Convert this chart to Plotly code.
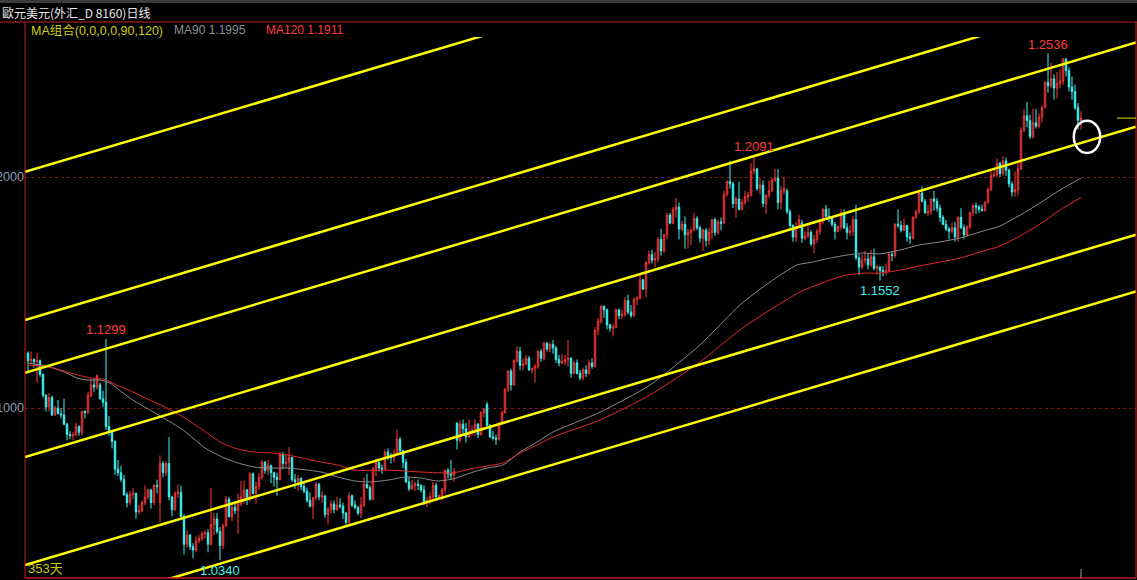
import plotly.graph_objects as go

# ---------------- data (EUR/USD daily) ----------------
opens = [
    # Oct 2016
    1.1238,1.1205,1.1210,1.1200,1.1205,1.1145,1.1055,1.1005,1.1045,1.0970,1.1000,1.0975,1.0970,1.0930,1.0885,1.0880,1.0885,1.0920,1.0895,1.0985,
    # Nov 2016
    1.0980,1.1055,1.1100,1.1090,1.1100,1.1040,1.1025,1.0920,1.0895,1.0855,1.0735,1.0720,1.0690,1.0625,1.0590,1.0625,1.0630,1.0550,1.0555,1.0590,1.0615,1.0645,
    # Dec 2016
    1.0590,1.0665,1.0590,1.0760,1.0720,1.0760,1.0615,1.0560,1.0630,1.0635,1.0530,1.0410,1.0450,1.0400,1.0385,1.0425,1.0435,1.0455,1.0460,1.0410,1.0495,
    # Jan 2017
    1.0520,1.0465,1.0405,1.0490,1.0605,1.0530,1.0570,1.0555,1.0585,1.0615,1.0645,1.0605,1.0715,1.0630,1.0660,1.0700,1.0765,1.0730,1.0750,1.0720,1.0700,1.0690,
    # Feb 2017
    1.0800,1.0760,1.0765,1.0785,1.0690,1.0680,1.0695,1.0660,1.0640,1.0600,1.0575,1.0610,1.0670,1.0615,1.0620,1.0540,1.0560,1.0585,1.0560,1.0580,
    # Mar 2017
    1.0575,1.0545,1.0505,1.0620,1.0580,1.0570,1.0545,1.0580,1.0670,1.0655,1.0605,1.0735,1.0765,1.0740,1.0735,1.0810,1.0795,1.0785,1.0800,1.0865,1.0815,1.0765,1.0680,
    # Apr 2017
    1.0650,1.0665,1.0670,1.0665,1.0645,1.0590,1.0600,1.0615,1.0665,1.0615,1.0620,1.0645,1.0730,1.0715,1.0710,1.0935,1.0860,1.0930,1.0910,1.0875,
    # May 2017
    1.0895,1.0905,1.0930,1.0885,1.0980,1.1015,1.0925,1.0875,1.0870,1.0865,1.0935,1.0980,1.1080,1.1160,1.1100,1.1205,1.1245,1.1185,1.1190,1.1215,1.1165,1.1170,1.1180,
    # Jun 2017
    1.1245,1.1215,1.1280,1.1255,1.1275,1.1260,1.1210,1.1195,1.1200,1.1210,1.1215,1.1150,1.1195,1.1150,1.1130,1.1165,1.1150,1.1195,1.1180,1.1335,1.1375,1.1440,
    # Jul 2017
    1.1425,1.1360,1.1345,1.1350,1.1425,1.1400,1.1405,1.1465,1.1415,1.1400,1.1470,1.1475,1.1555,1.1515,1.1630,1.1665,1.1640,1.1645,1.1730,1.1680,1.1750,
    # Aug 2017
    1.1835,1.1800,1.1860,1.1870,1.1775,1.1795,1.1750,1.1760,1.1770,1.1820,1.1780,1.1735,1.1770,1.1725,1.1760,1.1815,1.1760,1.1805,1.1800,1.1925,1.1980,1.1970,1.1885,
    # Sep 2017
    1.1905,1.1860,1.1890,1.1915,1.1920,1.2025,1.2035,1.1950,1.1965,1.1885,1.1920,1.1940,1.1985,1.1995,1.1890,1.1940,1.1940,1.1850,1.1790,1.1740,1.1785,
    # Oct 2017
    1.1800,1.1735,1.1745,1.1760,1.1710,1.1730,1.1765,1.1810,1.1860,1.1830,1.1820,1.1795,1.1765,1.1785,1.1845,1.1780,1.1760,1.1765,1.1815,1.1650,1.1610,1.1640,
    # Nov 2017
    1.1645,1.1620,1.1655,1.1605,1.1610,1.1595,1.1590,1.1595,1.1665,1.1660,1.1795,1.1790,1.1770,1.1790,1.1740,1.1735,1.1825,1.1850,1.1930,1.1895,1.1845,1.1850,
    # Dec 2017
    1.1905,1.1895,1.1865,1.1825,1.1795,1.1775,1.1765,1.1780,1.1740,1.1825,1.1780,1.1750,1.1785,1.1845,1.1875,1.1870,1.1860,1.1855,1.1890,1.1945,
    # Jan 2018
    1.2005,1.2010,1.2060,1.2015,1.2070,1.2030,1.1970,1.1935,1.1945,1.2035,1.2200,1.2265,1.2245,1.2175,1.2235,1.2220,1.2260,1.2300,1.2410,1.2395,1.2425,1.2385,1.2405,
    # Feb 2018
    1.2415,1.2510,1.2460,1.2390,1.2370,1.2300,1.2245,
]

highs = [
    1.1245,1.1245,1.1215,1.1240,1.1210,1.1150,1.1060,1.1065,1.1055,1.1010,1.1035,1.1000,1.1040,1.0935,1.0900,1.0895,1.0935,1.0925,1.0985,1.0990,
    1.1070,1.1125,1.1125,1.1145,1.1110,1.1075,1.1299,1.0965,1.0905,1.0860,1.0775,1.0750,1.0710,1.0635,1.0640,1.0655,1.0635,1.0580,1.0600,1.0665,1.0650,1.0650,
    1.0670,1.0690,1.0795,1.0770,1.0770,1.0874,1.0620,1.0640,1.0670,1.0665,1.0540,1.0470,1.0455,1.0415,1.0445,1.0450,1.0465,1.0470,1.0475,1.0655,1.0545,
    1.0545,1.0485,1.0500,1.0620,1.0615,1.0585,1.0585,1.0630,1.0685,1.0685,1.0650,1.0720,1.0720,1.0680,1.0720,1.0775,1.0770,1.0775,1.0755,1.0725,1.0720,1.0810,
    1.0810,1.0800,1.0830,1.0790,1.0715,1.0710,1.0700,1.0680,1.0655,1.0635,1.0615,1.0680,1.0675,1.0640,1.0620,1.0570,1.0600,1.0600,1.0615,1.0610,
    1.0590,1.0550,1.0635,1.0625,1.0600,1.0575,1.0615,1.0700,1.0715,1.0665,1.0745,1.0780,1.0770,1.0755,1.0820,1.0825,1.0805,1.0820,1.0906,1.0875,1.0820,1.0780,1.0700,
    1.0690,1.0680,1.0690,1.0670,1.0665,1.0615,1.0635,1.0680,1.0675,1.0625,1.0655,1.0735,1.0740,1.0775,1.0740,1.0937,1.0945,1.0950,1.0935,1.0950,
    1.0925,1.0950,1.0935,1.0985,1.1000,1.1025,1.0930,1.0900,1.0885,1.0935,1.0990,1.1085,1.1165,1.1170,1.1210,1.1268,1.1265,1.1215,1.1230,1.1225,1.1175,1.1190,1.1250,
    1.1255,1.1285,1.1285,1.1285,1.1295,1.1270,1.1230,1.1235,1.1230,1.1295,1.1220,1.1205,1.1210,1.1165,1.1175,1.1185,1.1210,1.1215,1.1350,1.1390,1.1445,1.1445,
    1.1430,1.1365,1.1365,1.1430,1.1430,1.1425,1.1480,1.1490,1.1445,1.1480,1.1485,1.1585,1.1560,1.1635,1.1680,1.1685,1.1675,1.1740,1.1775,1.1755,1.1845,
    1.1845,1.1870,1.1910,1.1890,1.1810,1.1830,1.1775,1.1780,1.1845,1.1830,1.1790,1.1775,1.1780,1.1780,1.1820,1.1825,1.1815,1.1825,1.1940,1.1985,1.2070,1.1980,1.1915,
    1.1980,1.1905,1.1940,1.1935,1.2060,1.2091,1.2040,1.1995,1.1985,1.1925,1.1985,1.1995,1.2035,1.2035,1.1960,1.2000,1.1950,1.1860,1.1795,1.1805,1.1835,
    1.1815,1.1765,1.1790,1.1770,1.1750,1.1775,1.1820,1.1865,1.1880,1.1865,1.1830,1.1805,1.1790,1.1860,1.1860,1.1800,1.1790,1.1830,1.1880,1.1665,1.1665,1.1680,
    1.1670,1.1685,1.1690,1.1620,1.1615,1.1615,1.1625,1.1670,1.1675,1.1800,1.1860,1.1810,1.1820,1.1790,1.1760,1.1830,1.1860,1.1935,1.1960,1.1905,1.1880,1.1905,
    1.1940,1.1910,1.1880,1.1835,1.1815,1.1785,1.1800,1.1805,1.1830,1.1865,1.1795,1.1790,1.1850,1.1885,1.1890,1.1880,1.1880,1.1895,1.1955,1.2025,
    1.2030,1.2080,1.2065,1.2090,1.2085,1.2035,1.1980,1.2025,1.2060,1.2215,1.2295,1.2325,1.2270,1.2295,1.2295,1.2275,1.2310,1.2415,1.2536,1.2495,1.2445,1.2455,1.2465,
    1.2515,1.2515,1.2475,1.2435,1.2400,1.2320,1.2285,
]

lows = [
    1.1160,1.1195,1.1175,1.1110,1.1135,1.1045,1.0985,1.0985,1.0965,1.0965,1.0975,1.0955,1.0925,1.0860,1.0865,1.0860,1.0875,1.0880,1.0880,1.0955,
    1.0975,1.1045,1.1070,1.1080,1.1035,1.1005,1.0905,1.0880,1.0825,1.0710,1.0705,1.0680,1.0620,1.0570,1.0580,1.0605,1.0520,1.0540,1.0550,1.0580,1.0605,1.0565,
    1.0580,1.0630,1.0505,1.0700,1.0705,1.0600,1.0530,1.0555,1.0610,1.0525,1.0365,1.0395,1.0385,1.0350,1.0375,1.0415,1.0425,1.0435,1.0375,1.0405,1.0450,
    1.0455,1.0340,1.0390,1.0485,1.0525,1.0510,1.0540,1.0455,1.0575,1.0585,1.0580,1.0595,1.0625,1.0585,1.0645,1.0690,1.0715,1.0710,1.0675,1.0660,1.0620,1.0690,
    1.0735,1.0740,1.0710,1.0680,1.0650,1.0640,1.0645,1.0630,1.0590,1.0570,1.0520,1.0600,1.0600,1.0590,1.0525,1.0495,1.0545,1.0545,1.0555,1.0565,
    1.0520,1.0495,1.0495,1.0570,1.0560,1.0535,1.0525,1.0570,1.0650,1.0600,1.0600,1.0705,1.0725,1.0715,1.0730,1.0775,1.0760,1.0765,1.0795,1.0800,1.0740,1.0675,1.0640,
    1.0645,1.0640,1.0645,1.0635,1.0580,1.0570,1.0585,1.0595,1.0600,1.0605,1.0600,1.0630,1.0695,1.0690,1.0680,1.0820,1.0850,1.0880,1.0850,1.0870,
    1.0880,1.0880,1.0870,1.0880,1.0960,1.0920,1.0870,1.0860,1.0840,1.0860,1.0925,1.0975,1.1070,1.1075,1.1095,1.1195,1.1165,1.1165,1.1185,1.1160,1.1150,1.1110,1.1170,
    1.1200,1.1205,1.1245,1.1240,1.1235,1.1195,1.1180,1.1190,1.1185,1.1180,1.1130,1.1145,1.1145,1.1120,1.1120,1.1135,1.1145,1.1170,1.1175,1.1315,1.1365,1.1390,
    1.1340,1.1330,1.1310,1.1345,1.1385,1.1385,1.1395,1.1405,1.1390,1.1395,1.1445,1.1470,1.1510,1.1480,1.1620,1.1625,1.1610,1.1630,1.1660,1.1670,1.1730,
    1.1795,1.1795,1.1825,1.1730,1.1765,1.1690,1.1690,1.1705,1.1765,1.1770,1.1715,1.1680,1.1700,1.1705,1.1730,1.1745,1.1750,1.1770,1.1795,1.1915,1.1950,1.1865,1.1825,
    1.1855,1.1855,1.1880,1.1895,1.1915,1.2010,1.1940,1.1925,1.1870,1.1840,1.1910,1.1935,1.1980,1.1860,1.1860,1.1925,1.1840,1.1780,1.1720,1.1720,1.1775,
    1.1715,1.1725,1.1735,1.1700,1.1670,1.1715,1.1750,1.1795,1.1825,1.1805,1.1785,1.1730,1.1760,1.1770,1.1775,1.1730,1.1745,1.1745,1.1640,1.1575,1.1600,1.1625,
    1.1600,1.1610,1.1595,1.1575,1.1552,1.1570,1.1575,1.1590,1.1635,1.1650,1.1780,1.1760,1.1765,1.1720,1.1710,1.1730,1.1820,1.1840,1.1890,1.1840,1.1830,1.1835,
    1.1855,1.1850,1.1805,1.1790,1.1765,1.1730,1.1755,1.1720,1.1720,1.1775,1.1730,1.1745,1.1775,1.1830,1.1840,1.1845,1.1850,1.1850,1.1885,1.1940,
    1.2000,1.2000,1.2000,1.2005,1.2005,1.1955,1.1915,1.1915,1.1920,1.2030,1.2195,1.2215,1.2165,1.2165,1.2210,1.2210,1.2235,1.2300,1.2365,1.2385,1.2335,1.2340,1.2385,
    1.2400,1.2435,1.2370,1.2335,1.2290,1.2205,1.2205,
]

closes = [
    1.1205,1.1210,1.1200,1.1205,1.1145,1.1055,1.1005,1.1045,1.0970,1.1000,1.0975,1.0970,1.0930,1.0885,1.0880,1.0885,1.0920,1.0895,1.0985,1.0980,
    1.1055,1.1100,1.1090,1.1140,1.1040,1.1025,1.0920,1.0895,1.0855,1.0735,1.0720,1.0690,1.0625,1.0590,1.0625,1.0630,1.0550,1.0555,1.0590,1.0615,1.0645,1.0590,
    1.0665,1.0660,1.0760,1.0720,1.0760,1.0615,1.0560,1.0630,1.0635,1.0530,1.0410,1.0450,1.0400,1.0385,1.0425,1.0435,1.0455,1.0460,1.0410,1.0495,1.0520,
    1.0465,1.0405,1.0490,1.0605,1.0530,1.0570,1.0555,1.0585,1.0615,1.0645,1.0605,1.0715,1.0630,1.0660,1.0700,1.0765,1.0730,1.0750,1.0720,1.0700,1.0690,1.0800,
    1.0760,1.0765,1.0785,1.0690,1.0680,1.0695,1.0660,1.0640,1.0600,1.0575,1.0610,1.0670,1.0615,1.0620,1.0540,1.0560,1.0585,1.0560,1.0580,1.0575,
    1.0545,1.0505,1.0620,1.0580,1.0570,1.0545,1.0580,1.0670,1.0655,1.0605,1.0735,1.0765,1.0740,1.0735,1.0810,1.0795,1.0785,1.0800,1.0865,1.0815,1.0765,1.0680,1.0650,
    1.0665,1.0670,1.0665,1.0645,1.0590,1.0600,1.0615,1.0665,1.0615,1.0620,1.0645,1.0730,1.0715,1.0710,1.0725,1.0860,1.0930,1.0910,1.0875,1.0895,
    1.0905,1.0930,1.0885,1.0980,1.0995,1.0925,1.0875,1.0870,1.0865,1.0935,1.0980,1.1080,1.1160,1.1100,1.1205,1.1245,1.1185,1.1190,1.1215,1.1165,1.1170,1.1180,1.1245,
    1.1215,1.1280,1.1255,1.1275,1.1260,1.1210,1.1195,1.1200,1.1210,1.1215,1.1150,1.1195,1.1150,1.1130,1.1165,1.1150,1.1195,1.1180,1.1335,1.1375,1.1440,1.1425,
    1.1360,1.1345,1.1350,1.1425,1.1400,1.1405,1.1465,1.1415,1.1400,1.1470,1.1475,1.1555,1.1515,1.1630,1.1665,1.1640,1.1645,1.1730,1.1680,1.1750,1.1835,
    1.1800,1.1860,1.1870,1.1775,1.1795,1.1750,1.1760,1.1770,1.1820,1.1780,1.1735,1.1770,1.1725,1.1760,1.1815,1.1760,1.1805,1.1800,1.1925,1.1980,1.1970,1.1885,1.1905,
    1.1860,1.1890,1.1915,1.1920,1.2025,1.2035,1.1950,1.1965,1.1885,1.1920,1.1940,1.1985,1.1995,1.1890,1.1940,1.1950,1.1850,1.1790,1.1740,1.1785,1.1815,
    1.1735,1.1745,1.1760,1.1710,1.1730,1.1765,1.1810,1.1860,1.1830,1.1820,1.1795,1.1765,1.1785,1.1845,1.1780,1.1760,1.1765,1.1815,1.1650,1.1610,1.1640,1.1645,
    1.1620,1.1655,1.1605,1.1610,1.1595,1.1590,1.1595,1.1665,1.1660,1.1795,1.1790,1.1770,1.1790,1.1740,1.1735,1.1825,1.1850,1.1930,1.1895,1.1845,1.1850,1.1905,
    1.1895,1.1865,1.1825,1.1795,1.1775,1.1765,1.1780,1.1740,1.1825,1.1780,1.1750,1.1785,1.1845,1.1875,1.1870,1.1860,1.1855,1.1890,1.1945,1.2005,
    1.2010,1.2060,1.2015,1.2070,1.2030,1.1970,1.1935,1.1945,1.2035,1.2200,1.2265,1.2245,1.2175,1.2235,1.2220,1.2260,1.2300,1.2410,1.2395,1.2425,1.2385,1.2405,1.2415,
    1.2510,1.2460,1.2390,1.2370,1.2300,1.2245,1.2255,
]

# moving averages (candle index, price)
ma90_x = [0, 7.3, 13, 16.3, 19.7, 24, 27.3, 31.7, 35, 40.7, 46.3, 51.7, 55, 59, 64.7, 70, 75.7, 81.3, 86.7, 97.7,
          103.3, 109, 114.3, 120, 125.7, 131, 136.3, 141.7, 147.3, 153, 158.3, 164, 169.7, 175, 190.7, 207.3, 224, 237.3, 247.3, 256.3,
          261.7, 267.3, 273, 278.3, 284, 290.7, 297.3, 304, 310.7, 317.3, 324, 330.7, 337.3, 344, 351]
ma90_v = [1.1195, 1.1177, 1.1151, 1.1130, 1.1121, 1.1121, 1.1108, 1.1065, 1.1034, 1.0991, 1.0948, 1.0905, 1.0870, 1.0827, 1.0788, 1.0762, 1.0744, 1.0740, 1.0740, 1.0723,
          1.0701, 1.0684, 1.0680, 1.0688, 1.0701, 1.0697, 1.0684, 1.0693, 1.0718, 1.0740, 1.0753, 1.0809, 1.0853, 1.0896, 1.0982, 1.1099, 1.1273, 1.1446, 1.1545, 1.1619,
          1.1632, 1.1649, 1.1662, 1.1671, 1.1667, 1.1684, 1.1706, 1.1719, 1.1736, 1.1762, 1.1788, 1.1835, 1.1887, 1.1944, 1.1995]
ma120_x = [0, 7.3, 13, 20.7, 25, 29.7, 35, 40.7, 46.3, 51.7, 57.3, 64.7, 70, 75.7, 81.3, 86.7, 97.7, 103.3, 109, 120,
           131, 141.7, 147.3, 153, 158.3, 164, 169.7, 175, 190.7, 207.3, 224, 237.3, 247.3, 257.3, 267.3, 273, 278.3, 284, 290.7, 297.3,
           304, 310.7, 317.3, 324, 330.7, 337.3, 344, 351]
ma120_v = [1.1186, 1.1177, 1.1156, 1.1130, 1.1126, 1.1099, 1.1069, 1.1034, 1.1000, 1.0961, 1.0913, 1.0848, 1.0822, 1.0809, 1.0805, 1.0796, 1.0766, 1.0753, 1.0731, 1.0731,
           1.0723, 1.0719, 1.0736, 1.0749, 1.0762, 1.0805, 1.0840, 1.0874, 1.0948, 1.1056, 1.1199, 1.1338, 1.1424, 1.1502, 1.1554, 1.1576, 1.1584, 1.1584, 1.1597, 1.1615,
           1.1632, 1.1649, 1.1675, 1.1701, 1.1745, 1.1796, 1.1857, 1.1911]

# parallel channel lines: price at the left edge and at the right edge of the chart
channel_start = [1.2022, 1.1381, 1.1152, 1.0788, 1.0320, 1.0075]
channel_end   = [1.3452, 1.2811, 1.2582, 1.2218, 1.1750, 1.1505]

marked_highs = [26, 242, 340]
marked_lows = [64, 284]

title_text = "歐元美元(外汇_D 8160)日线"
ma_group_text = "MA组合(0,0,0,0,90,120)"
days_text = "353天"
y_ticks = [1.1, 1.2]
y_ticktext = ["1.1000", "1.2000"]

# circled area (candle index, price)
circle_idx, circle_price = 353, 1.2174

# ---------------- layout geometry ----------------
W, H = 1137, 580
L, R, T, B = 25, 1136, 37, 578
PW, PH = R - L, B - T
X_MIN = -1
X_MAX = X_MIN + PW / 3.0
Y_MIN = 1.2 - (B - 177) / 2310.0
Y_MAX = 1.2 + (177 - T) / 2310.0


def px_x(px):
    return (px - L) / PW


def px_y(py):
    return (B - py) / PH


n = len(closes)
assert len(opens) == n and len(highs) == n and len(lows) == n, (len(opens), len(highs), len(lows), n)
idx = list(range(n))

RED = "#ff3b3b"
CYAN = "#3cf2f2"
BORDER = "#c41e1e"
YELLOW = "#ffff00"

fig = go.Figure()

fig.add_trace(go.Scatter(x=ma90_x, y=ma90_v, mode="lines",
                         line=dict(color="#8c8c8c", width=1, shape="spline", smoothing=0.6),
                         hoverinfo="skip"))
fig.add_trace(go.Scatter(x=ma120_x, y=ma120_v, mode="lines",
                         line=dict(color="#e52a2a", width=1, shape="spline", smoothing=0.6),
                         hoverinfo="skip"))

fig.add_trace(go.Candlestick(
    x=idx, open=opens, high=highs, low=lows, close=closes,
    increasing=dict(line=dict(color=RED, width=1), fillcolor="#000000"),
    decreasing=dict(line=dict(color=CYAN, width=1), fillcolor=CYAN),
    whiskerwidth=0, hoverinfo="skip"))

for s, e in zip(channel_start, channel_end):
    fig.add_trace(go.Scatter(x=[X_MIN, X_MAX], y=[s, e], mode="lines",
                             line=dict(color=YELLOW, width=2.5), hoverinfo="skip"))

num_font = "Liberation Sans, Arial, sans-serif"
cjk_font = "Liberation Sans, Noto Sans CJK SC, sans-serif"

annotations = []
for i in marked_highs:
    annotations.append(dict(x=i, y=highs[i], xref="x", yref="y", text=f"{highs[i]:.4f}",
                            showarrow=False, yanchor="middle", yshift=9,
                            font=dict(family=num_font, size=13, color=RED)))
for i in marked_lows:
    annotations.append(dict(x=i, y=lows[i], xref="x", yref="y", text=f"{lows[i]:.4f}",
                            showarrow=False, yanchor="middle", yshift=-10,
                            font=dict(family=num_font, size=13, color=CYAN)))

annotations += [
    dict(x=px_x(0), y=px_y(12), xref="paper", yref="paper", text=title_text, showarrow=False,
         xanchor="left", yanchor="middle", font=dict(family="Noto Sans CJK SC, sans-serif", size=12, color="#e8e8e8")),
    dict(x=px_x(29), y=px_y(30), xref="paper", yref="paper", text=ma_group_text, showarrow=False,
         xanchor="left", yanchor="middle", font=dict(family=cjk_font, size=12.5, color="#cccc10")),
    dict(x=px_x(172), y=px_y(30), xref="paper", yref="paper", text=f"MA90 {ma90_v[-1]:.4f}", showarrow=False,
         xanchor="left", yanchor="middle", font=dict(family=num_font, size=12, color="#8a9098")),
    dict(x=px_x(264), y=px_y(30), xref="paper", yref="paper", text=f"MA120 {ma120_v[-1]:.4f}", showarrow=False,
         xanchor="left", yanchor="middle", font=dict(family=num_font, size=12, color=RED)),
    dict(x=px_x(26), y=px_y(568), xref="paper", yref="paper", text=days_text, showarrow=False,
         xanchor="left", yanchor="middle", font=dict(family=cjk_font, size=13, color="#cccc10")),
]

shapes = [
    # top gray strip
    dict(type="rect", xref="paper", yref="paper", x0=px_x(0), x1=px_x(W), y0=px_y(3), y1=px_y(0),
         fillcolor="#3c3c3c", line=dict(width=0), layer="above"),
    # frame lines
    dict(type="line", xref="paper", yref="paper", x0=px_x(0), x1=px_x(W), y0=px_y(22), y1=px_y(22),
         line=dict(color=BORDER, width=1)),
    dict(type="line", xref="paper", yref="paper", x0=0, x1=0, y0=0, y1=px_y(22),
         line=dict(color=BORDER, width=1)),
    dict(type="line", xref="paper", yref="paper", x0=1, x1=1, y0=0, y1=px_y(22),
         line=dict(color=BORDER, width=1)),
    dict(type="line", xref="paper", yref="paper", x0=0, x1=1, y0=0, y1=0,
         line=dict(color=BORDER, width=1.5)),
    # current price marker
    dict(type="line", xref="paper", yref="y", x0=px_x(1117), x1=1, y0=closes[-1], y1=closes[-1],
         line=dict(color="#e0e000", width=1)),
    # cursor tick at last candle
    dict(type="line", xref="x", yref="paper", x0=n - 1, x1=n - 1, y0=0, y1=9 / PH,
         line=dict(color="#9a9a9a", width=1)),
    # white circle
    dict(type="circle", xref="x", yref="y", x0=circle_idx - 4.4, x1=circle_idx + 4.4,
         y0=circle_price - 0.0070, y1=circle_price + 0.0070, line=dict(color="#ffffff", width=2.5)),
]

fig.update_layout(
    width=W, height=H, template="none",
    margin=dict(l=L, r=W - R, t=T, b=H - B, pad=0),
    paper_bgcolor="#000000", plot_bgcolor="#000000",
    showlegend=False, hovermode=False,
    annotations=annotations, shapes=shapes,
    xaxis=dict(range=[X_MIN, X_MAX], showgrid=False, zeroline=False, showticklabels=False,
               showline=False, ticks="", rangeslider=dict(visible=False), fixedrange=True, automargin=False),
    yaxis=dict(range=[Y_MIN, Y_MAX], tickvals=y_ticks, ticktext=y_ticktext, ticks="",
               tickfont=dict(family=num_font, size=12.6, color="#8c9cb4"),
               showgrid=True, gridcolor="#7a1616", griddash="dot", gridwidth=1,
               zeroline=False, showline=False, fixedrange=True, automargin=False),
)

fig.write_html(
    "out.html",
    config={"displayModeBar": False},
    post_script="document.body.style.margin='0';document.body.style.padding='0';"
                "document.body.style.background='#000';document.body.style.overflow='hidden';",
)
